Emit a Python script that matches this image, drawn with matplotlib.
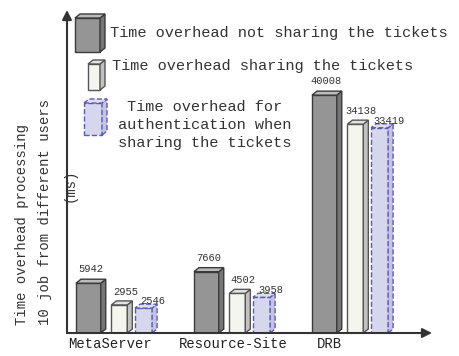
import numpy as np
import matplotlib
matplotlib.use("Agg")
import matplotlib.pyplot as plt
from matplotlib.patches import Polygon
from matplotlib.transforms import IdentityTransform

# ---- data ----
categories = ["MetaServer", "Resource-Site", "DRB"]
not_sharing = [5942, 7660, 40008]
sharing = [2955, 4502, 34138]
auth_sharing = [2546, 3958, 33419]
legend_labels = [
    "Time overhead not sharing the tickets",
    "Time overhead sharing the tickets",
    "Time overhead for\nauthentication when\nsharing the tickets",
]

W, H = 459, 356
FONT = "Liberation Mono"
plt.rcParams["font.family"] = [FONT, "DejaVu Sans Mono"]

fig = plt.figure(figsize=(W / 100, H / 100), dpi=100)
ax = fig.add_axes([67 / W, 23 / H, (432 - 67) / W, (333 - 10) / H])

power = 0.82
ax.set_yscale("function",
              functions=(lambda v: np.power(np.clip(v, 0, None), power),
                         lambda v: np.power(np.clip(v, 0, None), 1 / power)))
ax.set_ylim(0, 58100)
ax.set_xlim(-0.076, 3.017)
for sp in ax.spines.values():
    sp.set_visible(False)
ax.set_yticks([])
ax.tick_params(axis="x", length=0, pad=3)

groups = np.arange(len(categories), dtype=float)
ax.set_xticks(groups + np.array([0.29, 0.33, 0.15]))
ax.set_xticklabels(categories, fontsize=10, color="#222222")

# series styling: (values, offset, width, front, side, top, edge, linestyle, label offset px)
series = [
    (not_sharing, 0.0, 0.21, "#959595", "#767676", "#bcbcbc", "#3a3a3a", "-", (2, 14)),
    (sharing, 0.30, 0.135, "#f5f5ef", "#c2c2c2", "#e2e2e2", "#555555", "-", (6, 13)),
    (auth_sharing, 0.50, 0.145, "#d6d6ec", "#c4c4e0", "#dedef0", "#5a5ab8", "--", (9, 7)),
]

DX, DY = 5, 4  # depth of the 3D faces in pixels

for vals, off, w, fc, sc, tc, ec, ls, (lx, ly) in series:
    xs = groups + off
    ax.bar(xs, vals, width=w, align="edge", color=fc, edgecolor=ec,
           linewidth=1.0, linestyle=ls, zorder=3)
    for x0, v in zip(xs, vals):
        (px0, py0), (px1, py1) = ax.transData.transform([(x0, 0), (x0 + w, v)])
        side = [(px1, py0), (px1 + DX, py0 + DY), (px1 + DX, py1 + DY), (px1, py1)]
        top = [(px0, py1), (px1, py1), (px1 + DX, py1 + DY), (px0 + DX, py1 + DY)]
        for verts, col in ((side, sc), (top, tc)):
            ax.add_patch(Polygon(verts, closed=True, transform=IdentityTransform(),
                                 facecolor=col, edgecolor=ec, linewidth=1.0,
                                 linestyle=ls, zorder=3, clip_on=False))
        ax.annotate(f"{v}", xy=(x0 + w / 2, v), xytext=(lx, ly),
                    textcoords="offset pixels", ha="center", va="center",
                    fontsize=7.5, color="#333333", zorder=5)

# axes with arrow heads
arrow = dict(arrowstyle="-|>", color="#333333", lw=1.5, mutation_scale=14,
             shrinkA=0, shrinkB=0)
ax.annotate("", xy=(0, 1.0), xytext=(0, 0), xycoords="axes fraction",
            arrowprops=arrow, zorder=6)
ax.annotate("", xy=(1.0, 0), xytext=(0, 0), xycoords="axes fraction",
            arrowprops=arrow, zorder=6)

# y-axis title, three rotated lines
ylab_kw = dict(rotation=90, fontsize=10, color="#333333", ha="center")
fig.text(22 / W, 1 - 325 / H, "Time overhead processing", va="bottom", **ylab_kw)
fig.text(45 / W, 1 - 325 / H, "10 job from different users", va="bottom", **ylab_kw)
fig.text(70 / W, 1 - 185 / H, "(ms)", va="center", **ylab_kw)


# legend keys drawn as small 3D boxes (pixel coordinates from the top-left)
def key_box(x0, x1, ytop, ybot, fc, sc, tc, ec, ls):
    y0, y1 = H - ybot, H - ytop
    faces = [
        ([(x0, y0), (x1, y0), (x1, y1), (x0, y1)], fc),
        ([(x1, y0), (x1 + DX, y0 + DY), (x1 + DX, y1 + DY), (x1, y1)], sc),
        ([(x0, y1), (x1, y1), (x1 + DX, y1 + DY), (x0 + DX, y1 + DY)], tc),
    ]
    for verts, col in faces:
        fig.add_artist(Polygon(verts, closed=True, transform=IdentityTransform(),
                               facecolor=col, edgecolor=ec, linewidth=1.0,
                               linestyle=ls, zorder=6))


key_box(75, 100, 18, 52, "#959595", "#767676", "#bcbcbc", "#3a3a3a", "-")
key_box(88, 100, 64, 90, "#f5f5ef", "#c2c2c2", "#e2e2e2", "#555555", "-")
key_box(84, 102, 103, 135, "#d6d6ec", "#c4c4e0", "#dedef0", "#5a5ab8", "--")

fig.text(110 / W, 1 - 33 / H, legend_labels[0], fontsize=11, color="#333333",
         va="center", ha="left")
fig.text(112 / W, 1 - 66 / H, legend_labels[1], fontsize=11, color="#333333",
         va="center", ha="left")
fig.text(205 / W, 1 - 125 / H, legend_labels[2], fontsize=11, color="#333333",
         va="center", ha="center", multialignment="center", linespacing=1.35)

fig.savefig("out.png", dpi=100)
